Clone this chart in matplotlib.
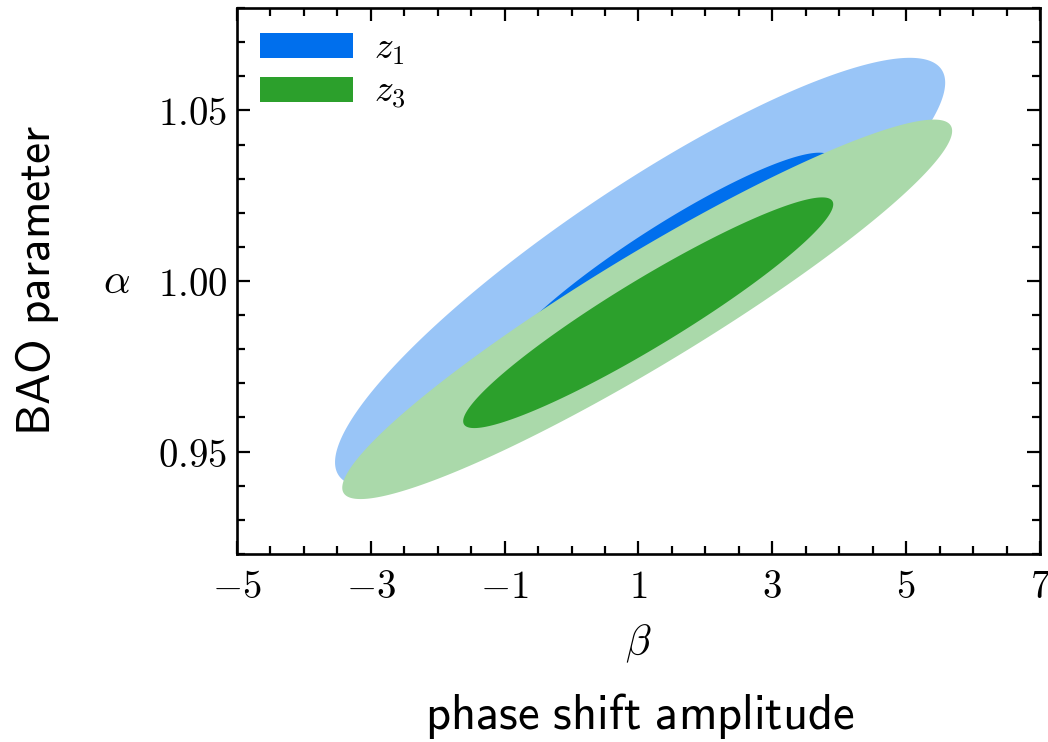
import numpy as np
import matplotlib
matplotlib.use("Agg")
import matplotlib.pyplot as plt
from matplotlib.patches import Patch
from matplotlib.ticker import FixedLocator, MultipleLocator, FixedFormatter

plt.rcParams["mathtext.fontset"] = "cm"

# Confidence regions in the (beta, alpha) plane: outer = 95%, inner = 68%
labels = [r"$z_1$", r"$z_3$"]
region_sample = [0, 0, 1, 1]
region_level = ["95", "68", "95", "68"]
region_beta = [1.024, 1.40, 1.13, 1.145]
region_alpha = [1.0025, 1.005, 0.9917, 0.9907]
region_half_beta = [4.559, 2.50, 4.557, 2.765]
region_half_alpha = [0.0629, 0.0326, 0.0556, 0.0338]
region_corr = [0.884, 0.92, 0.94, 0.94]

colors_outer = ["#99C5F7", "#AAD9AA"]
colors_inner = ["#006FED", "#2CA02C"]

x_major = [-5, -3, -1, 1, 3, 5, 7]
y_major = [0.95, 1.00, 1.05]


def contour(mx, my, ax_, ay_, r, n=500):
    """Boundary of a correlated ellipse with given half-extents."""
    t = np.linspace(0, 2 * np.pi, n)
    cov = np.array([[ax_ * ax_, r * ax_ * ay_], [r * ax_ * ay_, ay_ * ay_]])
    L = np.linalg.cholesky(cov)
    pts = L @ np.vstack([np.cos(t), np.sin(t)])
    return mx + pts[0], my + pts[1]


fig = plt.figure(figsize=(10.48, 7.42), dpi=100)
ax = fig.add_axes([237 / 1048, 1 - 554 / 742, (1040 - 237) / 1048, (554 - 8) / 742])

for k in range(len(region_beta)):
    s = region_sample[k]
    col = colors_outer[s] if region_level[k] == "95" else colors_inner[s]
    xs, ys = contour(region_beta[k], region_alpha[k], region_half_beta[k],
                     region_half_alpha[k], region_corr[k])
    ax.fill(xs, ys, color=col, lw=0, zorder=k + 1)

ax.set_xlim(-5, 7)
ax.set_ylim(0.92, 1.08)
ax.xaxis.set_major_locator(FixedLocator(x_major))
ax.xaxis.set_major_formatter(FixedFormatter([rf"${v:g}$" for v in x_major]))
ax.xaxis.set_minor_locator(MultipleLocator(0.5))
ax.yaxis.set_major_locator(FixedLocator(y_major))
ax.yaxis.set_major_formatter(FixedFormatter([rf"${v:.2f}$" for v in y_major]))
ax.yaxis.set_minor_locator(MultipleLocator(0.01))

ax.tick_params(which="both", direction="in", top=True, right=True,
               width=1.6, labelsize=28)
ax.tick_params(axis="x", which="major", length=9.5, pad=10)
ax.tick_params(axis="y", which="major", length=9.5, pad=7)
ax.tick_params(which="minor", length=5.5)
for sp in ax.spines.values():
    sp.set_linewidth(1.9)

ax.set_xlabel(r"$\beta$", fontsize=30, labelpad=12)
ax.set_ylabel(r"$\alpha$", fontsize=30, rotation=0, labelpad=30, va="center")

fig.text(640 / 1048, 1 - 716 / 742, r"$\mathsf{phase\ shift\ amplitude}$",
         fontsize=35, ha="center", va="center")
fig.text(37 / 1048, 1 - 280 / 742, r"$\mathsf{BAO\ parameter}$",
         fontsize=34, ha="center", va="center", rotation=90)

handles = [Patch(facecolor=c, edgecolor="none") for c in colors_inner]
ax.legend(handles, labels, loc="upper left", fontsize=27, frameon=False,
          handlelength=2.5, handleheight=0.65, handletextpad=0.55,
          labelspacing=0.2, borderaxespad=0.35, borderpad=0.25)

fig.savefig("out.png", dpi=100)
